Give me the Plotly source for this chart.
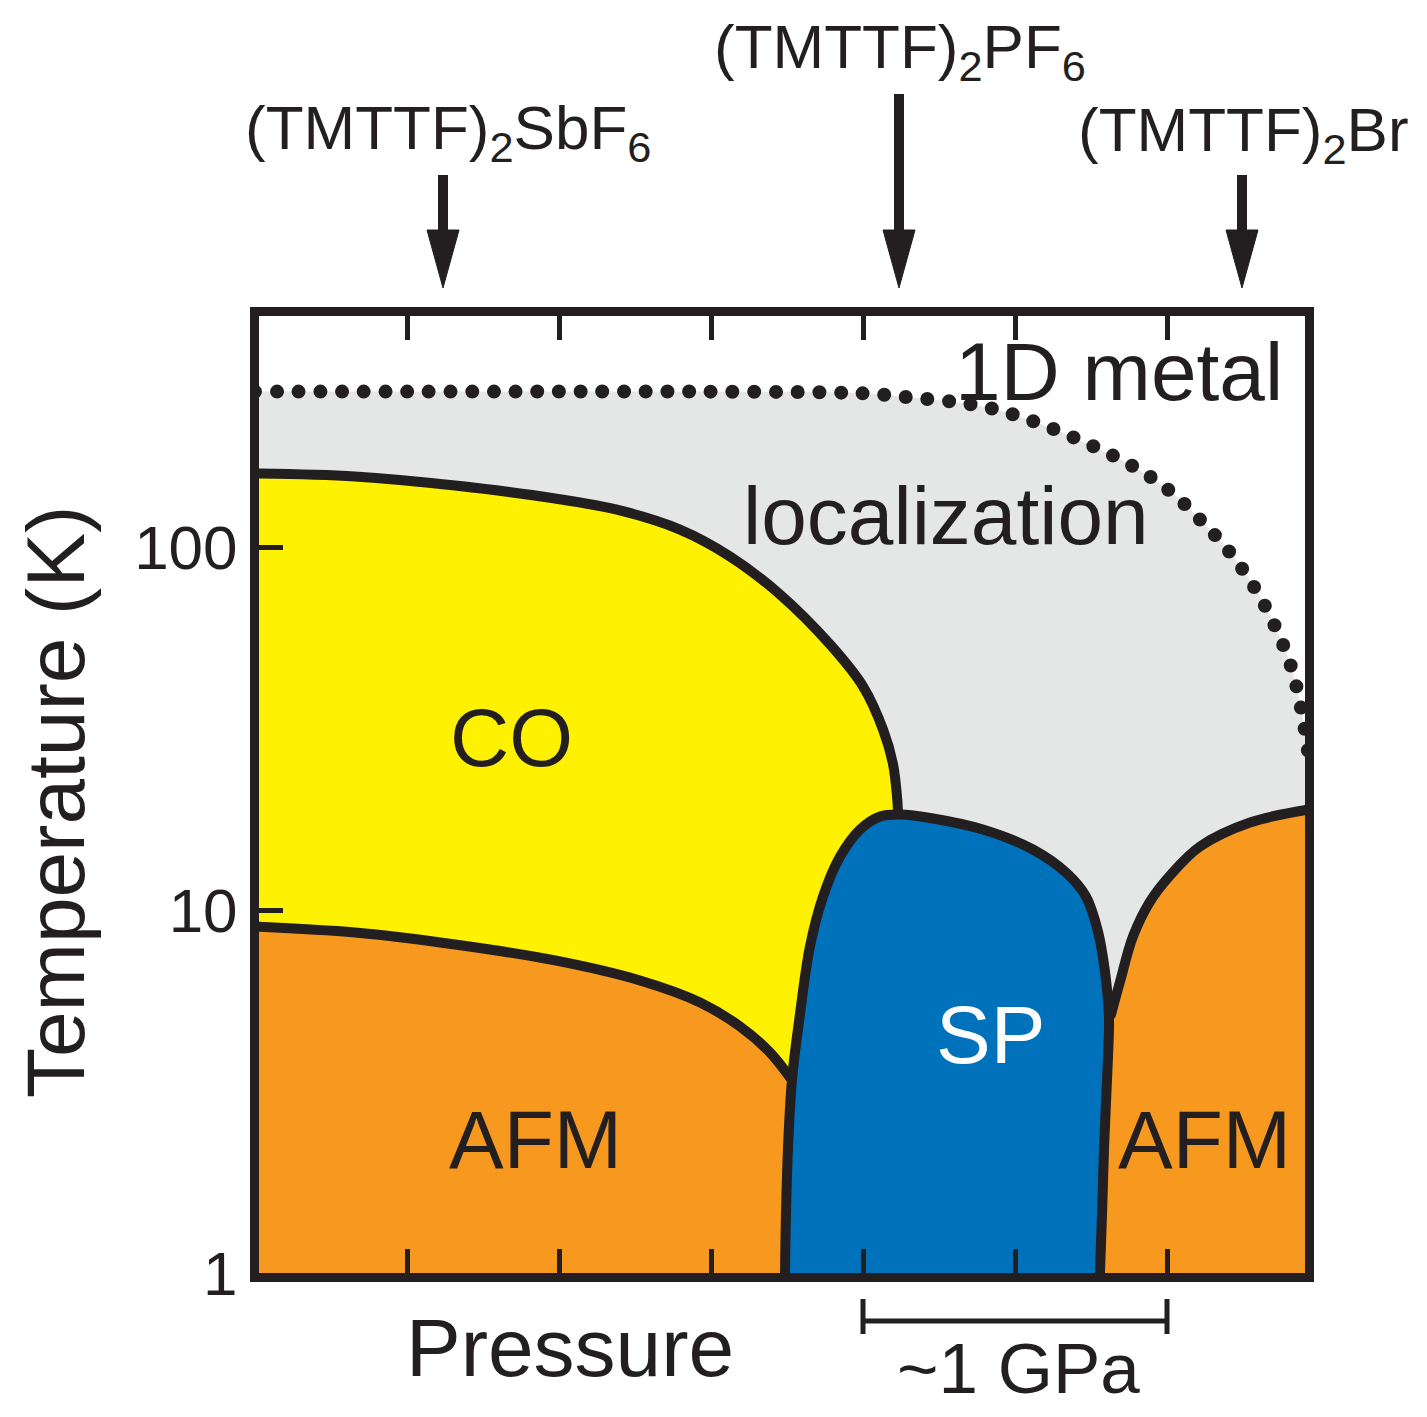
import plotly.graph_objects as go

# ---------------- data (pressure in arbitrary steps: 1 step = 0.5 GPa; T in K) ----------------
# 1D metal / localization crossover (dotted)
CROSS_P = [0.0, 1.61, 2.93, 4.0, 4.243, 4.717, 4.987, 5.257, 5.520, 5.776, 6.007, 6.230,
           6.414, 6.579, 6.711, 6.816, 6.882, 6.928]
CROSS_T = [268, 268, 268, 265, 260, 247, 232, 211, 189, 167, 144, 117.5,
           96.6, 76.9, 60.4, 46.9, 35.9, 27.3]

# charge order (CO) transition
CO_P = [0.0, 0.658, 1.316, 1.974, 2.401, 2.796, 3.125, 3.454, 3.783, 4.0, 4.132,
        4.197, 4.224, 4.230]
CO_T = [159.4, 156.4, 147.7, 136.0, 126.1, 111.7, 94.2, 74.0, 53.9, 41.3, 31.4,
        25.3, 20.5, 18.7]

# antiferromagnet (low pressure side)
AFM1_P = [0.0, 0.658, 1.316, 1.974, 2.533, 2.928, 3.191, 3.388, 3.520]
AFM1_T = [9.005, 8.670, 8.035, 7.261, 6.394, 5.562, 4.777, 4.051, 3.456]

# spin-Peierls dome
SP_P = [3.487, 3.493, 3.507, 3.533, 3.586, 3.651, 3.737, 3.849, 3.980, 4.112, 4.243,
        4.461, 4.789, 5.118, 5.342, 5.467, 5.546, 5.592, 5.618, 5.612, 5.586, 5.572, 5.559]
SP_T = [1.0, 1.431, 2.231, 3.413, 5.187, 7.934, 10.89, 14.04, 16.66, 18.10, 18.33,
        17.87, 16.66, 14.68, 12.61, 10.89, 8.728, 6.77, 5.089, 3.949, 2.231, 1.431, 1.0]

# antiferromagnet (high pressure side)
AFM2_P = [5.632, 5.691, 5.776, 5.888, 6.020, 6.217, 6.546, 6.934]
AFM2_T = [5.153, 6.353, 8.453, 10.55, 12.45, 14.96, 17.42, 18.92]

X_TICKS = [1, 2, 3, 4, 5, 6]
Y_TICKS = [1, 10, 100]
Y_TICK_TEXT = ["1", "10", "100"]
GPA_BAR = [4, 6]          # 1 GPa scale bar (two tick steps)

COMPOUNDS = ["(TMTTF)<sub>2</sub>SbF<sub>6</sub>",
             "(TMTTF)<sub>2</sub>PF<sub>6</sub>",
             "(TMTTF)<sub>2</sub>Br"]

# ---------------- layout constants ----------------
W, H = 1427, 1417
ML, MR, MT, MB = 259, 122, 316, 144
PW, PH = W - ML - MR, H - MT - MB
X_RANGE = [0.0263, 6.9079]
Y_RANGE_LOG = [0.0, 2.6364]
T_FLOOR = 0.5

INK = "#231F20"
GRAY = "#E5E7E6"
YELLOW = "#FFF200"
ORANGE = "#F7991E"
BLUE = "#0071BB"
FONT = "Liberation Sans, Arial, Helvetica, sans-serif"


def pp(px, py):
    """pixel -> paper coordinates"""
    return (px - ML) / PW, (H - MB - py) / PH


def xpaper(x):
    return (x - X_RANGE[0]) / (X_RANGE[1] - X_RANGE[0])


def base(xs):
    return go.Scatter(x=[xs[0], xs[-1]], y=[T_FLOOR, T_FLOOR], mode="lines",
                      line=dict(width=0), hoverinfo="skip", showlegend=False)


def region(xs, ys, color, fill="tonexty"):
    return go.Scatter(x=xs, y=ys, mode="lines", line=dict(width=0, shape="spline"),
                      fill=fill, fillcolor=color, hoverinfo="skip", showlegend=False)


def boundary(xs, ys, width=10, dash="solid"):
    return go.Scatter(x=xs, y=ys, mode="lines",
                      line=dict(color=INK, width=width, shape="spline", dash=dash),
                      hoverinfo="skip", showlegend=False)


sp_peak_x = SP_P[SP_T.index(max(SP_T))]

traces = [
    base(CROSS_P), region(CROSS_P, CROSS_T, GRAY),
    base(CO_P), region(CO_P, CO_T, YELLOW),
    base(AFM1_P), region(AFM1_P, AFM1_T, ORANGE),
    base([sp_peak_x, AFM2_P[-1]]), region(AFM2_P, AFM2_T, ORANGE),
    region(SP_P, SP_T, BLUE, fill="toself"),
    boundary(CO_P, CO_T),
    boundary(AFM1_P, AFM1_T),
    boundary(SP_P, SP_T),
    boundary(AFM2_P, AFM2_T),
    boundary(CROSS_P, CROSS_T, width=14, dash="0px,21.7px"),
]

fig = go.Figure(traces)

# ---------------- text ----------------
labels = [
    ("CO", 511, 737, 82, INK, 0),
    ("AFM", 535, 1139, 82, INK, 0),
    ("AFM", 1204, 1139, 82, INK, 0),
    ("SP", 990, 1034, 82, "white", 0),
    ("1D metal", 1119, 371, 82, INK, 0),
    ("localization", 946, 515, 82, INK, 0),
    ("Pressure", 570, 1347, 82, INK, 0),
    ("~1 GPa", 1018, 1368, 71, INK, 0),
    ("Temperature (K)", 55, 802, 82, INK, -90),
    (COMPOUNDS[0], 448, 132, 62, INK, 0),
    (COMPOUNDS[1], 900, 51, 62, INK, 0),
    (COMPOUNDS[2], 1243, 134, 62, INK, 0),
]
annotations = []
for txt, px, py, size, col, ang in labels:
    ax_, ay_ = pp(px, py)
    annotations.append(dict(text=txt, x=ax_, y=ay_, xref="paper", yref="paper",
                            xanchor="center", yanchor="middle", showarrow=False,
                            textangle=ang, font=dict(family=FONT, size=size, color=col)))

# ---------------- arrows and scale bar ----------------
shapes = []
for ax_px, top_py in [(443, 175), (899, 94), (1242, 175)]:
    x0, y0 = pp(ax_px, top_py)
    x1, y1 = pp(ax_px, 240)
    shapes.append(dict(type="line", xref="paper", yref="paper", x0=x0, y0=y0, x1=x1, y1=y1,
                       line=dict(color=INK, width=10)))
    a = pp(ax_px - 16, 230)
    b = pp(ax_px + 16, 230)
    c = pp(ax_px, 288)
    shapes.append(dict(type="path", xref="paper", yref="paper",
                       path=f"M{a[0]},{a[1]} L{b[0]},{b[1]} L{c[0]},{c[1]} Z",
                       fillcolor=INK, line=dict(color=INK, width=1)))

bx0, bx1 = xpaper(GPA_BAR[0]), xpaper(GPA_BAR[1])
_, by = pp(0, 1321)
_, byt = pp(0, 1299)
_, byb = pp(0, 1334)
shapes.append(dict(type="line", xref="paper", yref="paper", x0=bx0, x1=bx1, y0=by, y1=by,
                   line=dict(color=INK, width=5)))
for bx in (bx0, bx1):
    shapes.append(dict(type="line", xref="paper", yref="paper", x0=bx, x1=bx, y0=byt, y1=byb,
                       line=dict(color=INK, width=5)))

fig.update_layout(
    width=W, height=H, autosize=False,
    margin=dict(l=ML, r=MR, t=MT, b=MB, pad=0),
    paper_bgcolor="white", plot_bgcolor="white",
    showlegend=False,
    font=dict(family=FONT, size=62, color=INK),
    annotations=annotations, shapes=shapes,
    xaxis=dict(range=X_RANGE, tickvals=X_TICKS, showticklabels=False, ticks="inside",
               ticklen=24, tickwidth=4.5, tickcolor=INK, showline=True, linewidth=9,
               linecolor=INK, mirror="ticks", showgrid=False, zeroline=False, fixedrange=True),
    yaxis=dict(type="log", range=Y_RANGE_LOG, tickvals=Y_TICKS, ticktext=Y_TICK_TEXT,
               ticks="inside", ticklen=24, tickwidth=4.5, tickcolor=INK, showline=True,
               linewidth=9, linecolor=INK, mirror=True, showgrid=False, zeroline=False,
               tickfont=dict(family=FONT, size=62, color=INK), fixedrange=True),
)

post = ("var s=document.createElement('style');"
        "s.innerHTML='path.js-line{stroke-linecap:round;stroke-linejoin:round;} body{margin:0;}';"
        "document.head.appendChild(s);")

fig.write_html("out.html", post_script=post, config={"displayModeBar": False})
